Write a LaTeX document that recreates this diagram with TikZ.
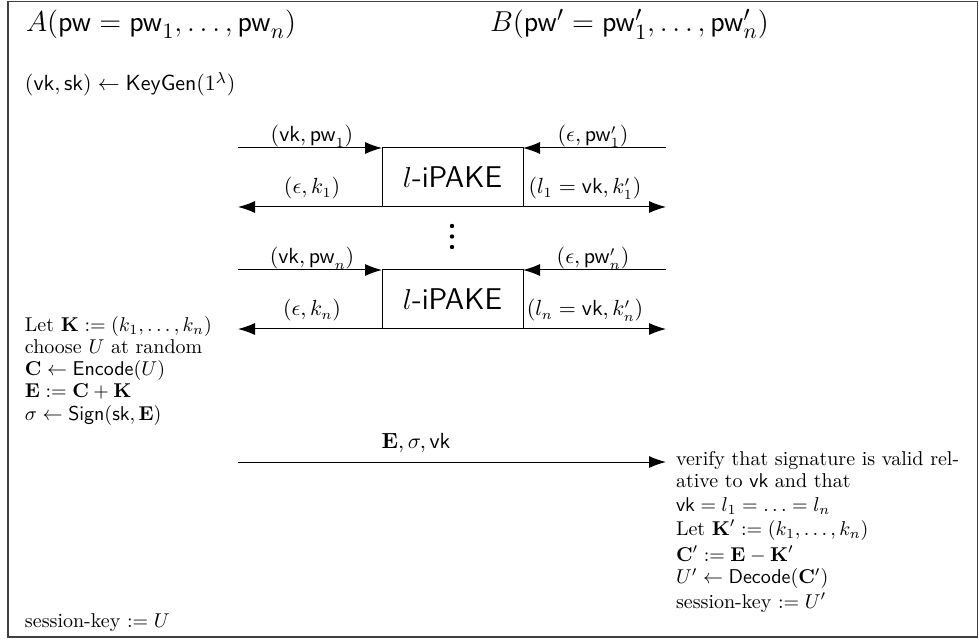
\documentclass[tikz,border=0pt]{standalone}
\usepackage{amsmath}
\usetikzlibrary{arrows.meta}
\newcommand{\sfm}[1]{\mathsf{#1}}
\newcommand{\tw}[1]{{\fontsize{10}{12}\selectfont #1}}
\begin{document}
\begin{tikzpicture}[x=0.5pt,y=-0.5pt,
 every node/.style={inner sep=0pt, outer sep=0pt},
 msg/.style={-{Latex[length=8.5pt,width=6pt]}, line width=0.5pt},
 lbl/.style={font=\fontsize{10.5}{12}\selectfont, anchor=base},
 txtline/.style={anchor=base west, font=\fontsize{10.2}{12}\selectfont},
 head/.style={anchor=base west, font=\fontsize{15.5}{18.5}\selectfont},
 pake/.style={draw, line width=0.5pt, minimum width=70.5pt, minimum height=29.5pt, font=\fontsize{15}{18}\selectfont},
 dotc/.style={circle, fill, minimum size=2.2pt}]
\useasboundingbox (0,0) rectangle (979,641);
\draw[line width=0.65pt, black!75] (8,1.5) rectangle (977.5,637);

% headings
\node[head] (hA) at (26,31.5) {$A(\sfm{pw}=\sfm{pw}_1,\ldots,\sfm{pw}_n)$};
\node[head] (hB) at (490,31.5) {$B(\sfm{pw}'=\sfm{pw}'_1,\ldots,\sfm{pw}'_n)$};
\node[txtline, font=\fontsize{11}{13}\selectfont] (kg) at (25,91) {$(\sfm{vk},\sfm{sk})\leftarrow\sfm{KeyGen}(1^\lambda)$};

% l-iPAKE boxes
\node[pake] (p1) at (452.5,177.5) {$l$\textsf{-iPAKE}};
\node[pake] (p2) at (452.5,299.5) {$l$\textsf{-iPAKE}};

\coordinate (l1t) at (238,148);
\coordinate (r1t) at (666,148);
\coordinate (l1b) at (238,207);
\coordinate (r1b) at (666,207);
\coordinate (l2t) at (238,270);
\coordinate (r2t) at (666,270);
\coordinate (l2b) at (238,329);
\coordinate (r2b) at (666,329);

\draw[msg] (l1t) -- (p1.north west);
\draw[msg] (r1t) -- (p1.north east);
\draw[msg] (p1.south west) -- (l1b);
\draw[msg] (p1.south east) -- (r1b);
\draw[msg] (l2t) -- (p2.north west);
\draw[msg] (r2t) -- (p2.north east);
\draw[msg] (p2.south west) -- (l2b);
\draw[msg] (p2.south east) -- (r2b);

% labels
\node[lbl] (a1) at (312,142) {$(\sfm{vk},\sfm{pw}_1)$};
\node[lbl] (b1) at (593,142) {$(\epsilon,\sfm{pw}'_1)$};
\node[lbl] (c1) at (312,194) {$(\epsilon,k_1)$};
\node[lbl] (d1) at (585,194) {$(l_1=\sfm{vk},k'_1)$};
\node[lbl] (a2) at (312,264) {$(\sfm{vk},\sfm{pw}_n)$};
\node[lbl] (b2) at (593,264) {$(\epsilon,\sfm{pw}'_n)$};
\node[lbl] (c2) at (312,316) {$(\epsilon,k_n)$};
\node[lbl] (d2) at (585,316) {$(l_n=\sfm{vk},k'_n)$};

% vertical dots
\node[dotc] (v1) at (452,226) {};
\node[dotc] (v2) at (452,236.5) {};
\node[dotc] (v3) at (452,247) {};

% left computation
\node[txtline] (L1) at (25,332) {\tw{Let} $\mathbf{K}:=(k_1,\ldots,k_n)$};
\node[txtline] (L2) at (25,354) {\tw{choose} $U$ \tw{at random}};
\node[txtline] (L3) at (25,376) {$\mathbf{C}\leftarrow\sfm{Encode}(U)$};
\node[txtline] (L4) at (25,398) {$\mathbf{E}:=\mathbf{C}+\mathbf{K}$};
\node[txtline] (L5) at (25,420) {$\sigma\leftarrow\sfm{Sign}(\sfm{sk},\mathbf{E})$};

% final message
\coordinate (es) at (238,462);
\coordinate (ee) at (666,462);
\draw[msg] (es) -- (ee);
\node[lbl] (el) at (416,448) {$\mathbf{E},\sigma,\sfm{vk}$};

% right computation
\node[txtline] (R1) at (676,465) {\tw{verify that signature is valid rel-}};
\node[txtline] (R2) at (676,487) {\tw{ative to $\sfm{vk}$ and that}};
\node[txtline] (R3) at (676,511) {$\sfm{vk}=l_1=\ldots=l_n$};
\node[txtline] (R4) at (676,535) {\tw{Let} $\mathbf{K}':=(k_1,\ldots,k_n)$};
\node[txtline] (R5) at (676,561) {$\mathbf{C}':=\mathbf{E}-\mathbf{K}'$};
\node[txtline] (R6) at (676,583.5) {$U'\leftarrow\sfm{Decode}(\mathbf{C}')$};
\node[txtline] (R7) at (676,608) {\tw{session-key} $:=U'$};

\node[txtline] (S) at (25,627) {\tw{session-key} $:=U$};
\end{tikzpicture}
\end{document}
